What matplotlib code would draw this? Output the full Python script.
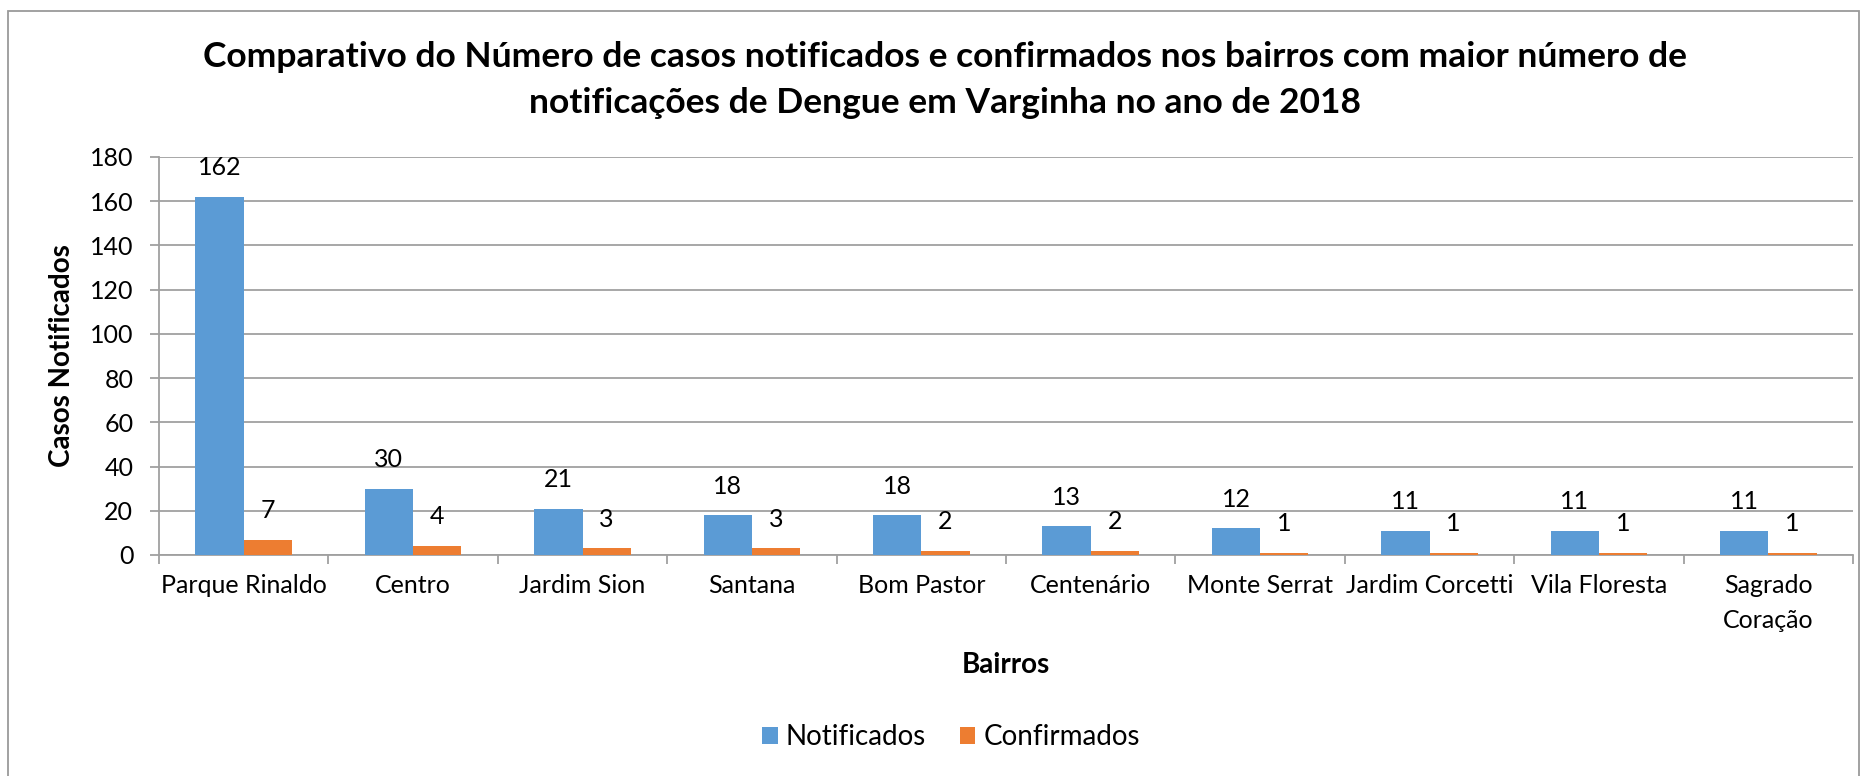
# Dengue cases per neighbourhood - Varginha 2018
import numpy as np
import matplotlib.pyplot as plt
from matplotlib.patches import Rectangle

bairros = ["Parque Rinaldo", "Centro", "Jardim Sion", "Santana", "Bom Pastor",
           "Centenário", "Monte Serrat", "Jardim Corcetti", "Vila Floresta",
           "Sagrado\nCoração"]
notificados = [162, 30, 21, 18, 18, 13, 12, 11, 11, 11]
confirmados = [7, 4, 3, 3, 2, 2, 1, 1, 1, 1]
y_ticks = [0, 20, 40, 60, 80, 100, 120, 140, 160, 180]

title = ("Comparativo do Número de casos notificados e confirmados nos bairros com maior número de\n"
         "notificações de Dengue em Varginha no ano de 2018")

plt.rcParams['font.family'] = ['Lato', 'DejaVu Sans']

blue = "#5B9BD5"
orange = "#ED7D31"
grid_color = "#A0A0A0"

W, H = 1862, 776
fig = plt.figure(figsize=(W / 100, H / 100), dpi=100)
ax = fig.add_axes([159 / W, 1 - 555 / H, (1853 - 159) / W, (555 - 157) / H])

x = np.arange(len(bairros))
bw = 0.285
b1 = ax.bar(x - bw / 2, notificados, bw, color=blue, label="Notificados", zorder=3)
b2 = ax.bar(x + bw / 2, confirmados, bw, color=orange, label="Confirmados", zorder=3)

for bars, vals in [(b1, notificados), (b2, confirmados)]:
    for bar, v in zip(bars, vals):
        ax.annotate(str(v), (bar.get_x() + bar.get_width() / 2, v),
                    xytext=(0, 21), textcoords="offset points",
                    ha="center", va="center", fontsize=18)

ax.set_xlim(-0.5, len(bairros) - 0.5)
ax.set_ylim(0, 180)
ax.set_yticks(y_ticks)
ax.yaxis.grid(True, color=grid_color, linewidth=1.3, zorder=0)
ax.tick_params(axis="y", length=6.5, width=1.3, color=grid_color, pad=12, labelsize=18)

ax.set_xticks(x)
ax.set_xticklabels(bairros, fontsize=18, linespacing=1.6)
ax.set_xticks(np.arange(len(bairros) + 1) - 0.5, minor=True)
ax.tick_params(axis="x", which="major", length=0, pad=14)
ax.tick_params(axis="x", which="minor", length=6.5, width=1.3, color=grid_color)

for s in ["top", "right"]:
    ax.spines[s].set_visible(False)
for s in ["left", "bottom"]:
    ax.spines[s].set_color(grid_color)
    ax.spines[s].set_linewidth(1.3)

ax.set_xlabel("Bairros", fontsize=20, fontweight="bold")
ax.xaxis.set_label_coords(0.5, -0.276)
ax.xaxis.label.set_va("center")
ax.set_ylabel("Casos Notificados", fontsize=20, fontweight="bold")
ax.yaxis.set_label_coords(-0.0573, 0.5)
ax.yaxis.label.set_va("center")

fig.text(945 / W, 1 - 80 / H, title, ha="center", va="center",
         fontsize=25.5, fontweight="bold", linespacing=1.55)

fig.legend(handles=[b1, b2], loc="center", bbox_to_anchor=(951 / W, 1 - 737 / H),
           ncol=2, frameon=False, fontsize=20, handlelength=0.55, handleheight=0.55,
           handletextpad=0.3, columnspacing=1.2)

fig.patches.append(Rectangle((8 / W, -0.05), (1859 - 8) / W, 1 - 11 / H + 0.05,
                             transform=fig.transFigure, fill=False,
                             edgecolor="#9A9A9A", linewidth=1.3))

plt.savefig("out.png", dpi=100)
plt.close()
